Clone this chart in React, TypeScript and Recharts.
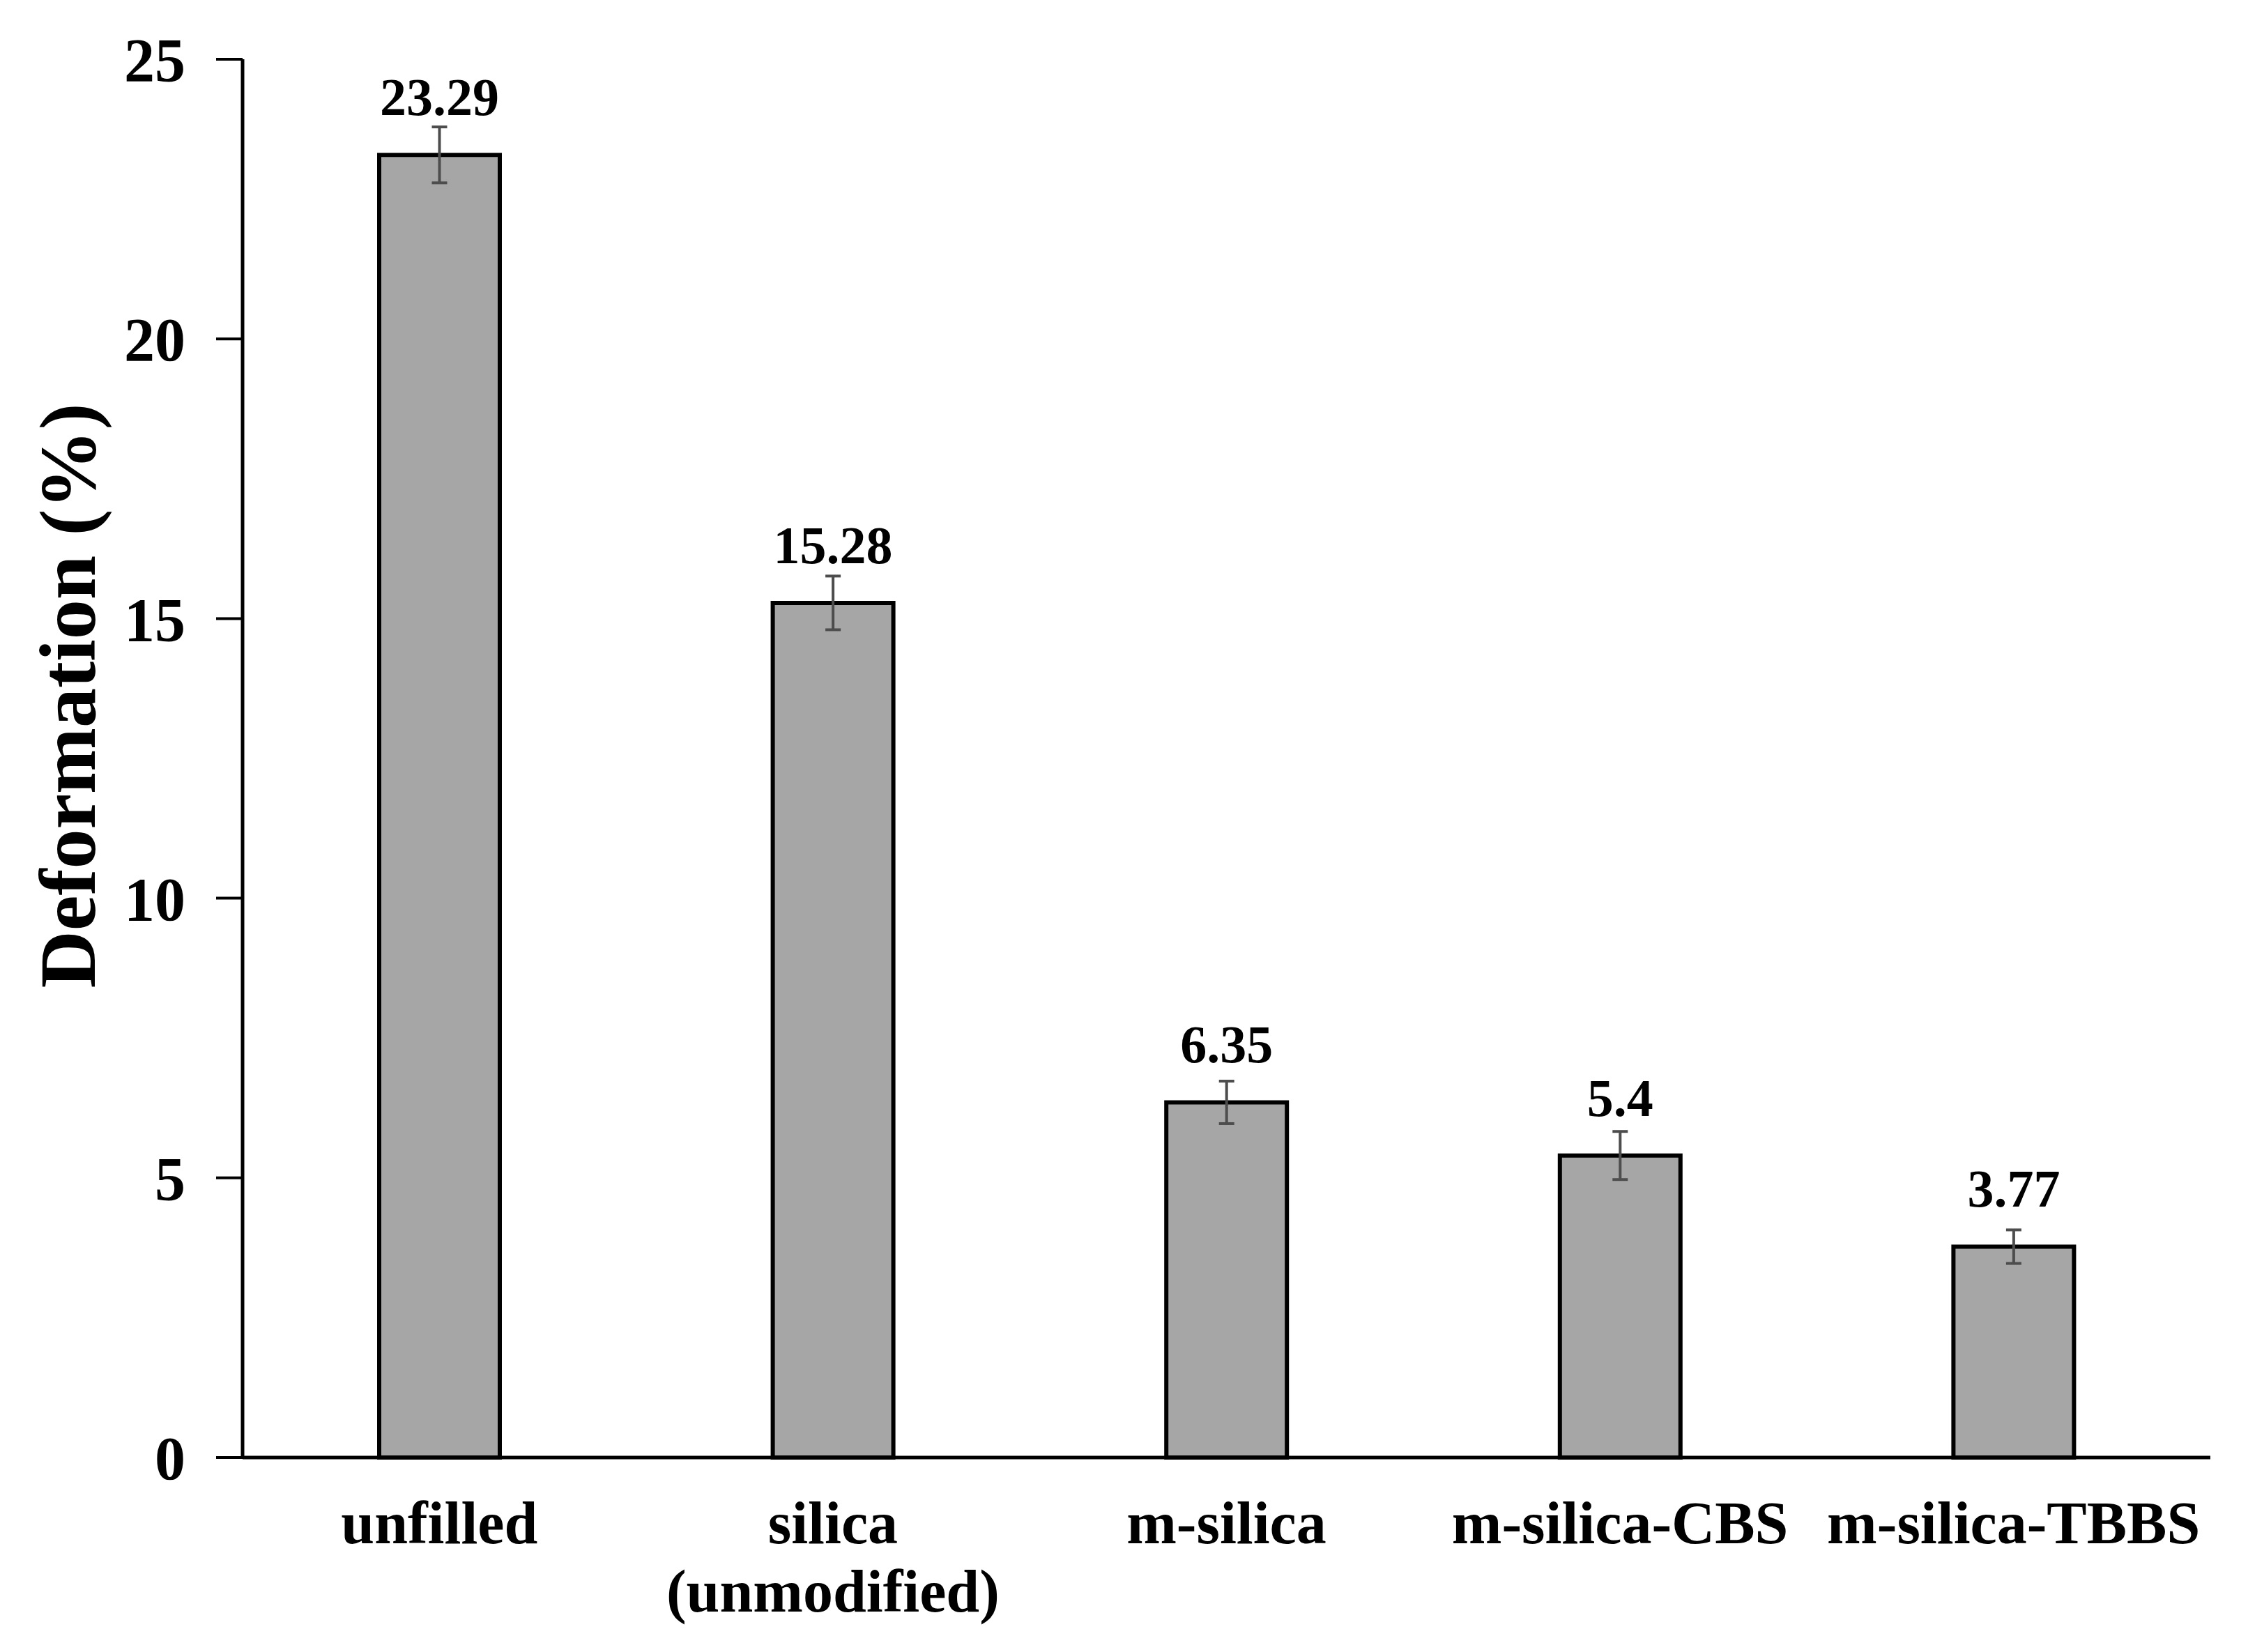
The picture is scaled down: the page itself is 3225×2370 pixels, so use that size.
import React from 'react';
import { BarChart, Bar, XAxis, YAxis, ErrorBar, LabelList, Label } from 'recharts';

const categories = ['unfilled', 'silica\n(unmodified)', 'm-silica', 'm-silica-CBS', 'm-silica-TBBS'];
const deformation = [23.29, 15.28, 6.35, 5.4, 3.77];
const deformationError = [0.5, 0.48, 0.38, 0.43, 0.3];
const yTicks = [0, 5, 10, 15, 20, 25];

const FONT = '"Liberation Serif", "Times New Roman", serif';

const chartData = categories.map((name, i) => ({
  name,
  value: deformation[i],
  err: deformationError[i],
}));

const CategoryTick = (props: any) => {
  const { x, y, payload } = props;
  const lines = String(payload.value).split('\n');
  return (
    <text x={x} y={y + 121} textAnchor="middle" fill="#000" fontFamily={FONT} fontWeight="bold" fontSize={86}>
      {lines.map((line, i) => (
        <tspan key={i} x={x} dy={i === 0 ? 0 : 98}>
          {line}
        </tspan>
      ))}
    </text>
  );
};

const ValueLabel = (props: any) => {
  const { x, y, width, value } = props;
  return (
    <text x={x + width / 2} y={y - 57} textAnchor="middle" fill="#000" fontFamily={FONT} fontWeight="bold" fontSize={76}>
      {value}
    </text>
  );
};

const App = () => {
  return (
    <BarChart width={3217} height={2362} data={chartData} margin={{ top: 77, right: 54, left: 0, bottom: 0 }}>
      <XAxis
        dataKey="name"
        height={279}
        interval={0}
        tickLine={false}
        tickSize={0}
        tick={<CategoryTick />}
        axisLine={{ stroke: '#000', strokeWidth: 5 }}
      />
      <XAxis xAxisId="top" dataKey="name" orientation="top" height={0} tick={false} tickLine={false} axisLine={{ stroke: '#000', strokeWidth: 5 }} />
      <YAxis
        width={340}
        domain={[0, 25]}
        ticks={yTicks}
        tickSize={38}
        tickMargin={44}
        tickLine={{ stroke: '#000', strokeWidth: 4 }}
        axisLine={{ stroke: '#000', strokeWidth: 5 }}
        tick={{ fill: '#000', fontFamily: FONT, fontWeight: 'bold', fontSize: 88 }}
      >
        <Label
          content={() => (
            <text
              x={89}
              y={990}
              transform="rotate(-90, 89, 990)"
              textAnchor="middle"
              dominantBaseline="central"
              fill="#000"
              fontFamily={FONT}
              fontWeight="bold"
              fontSize={114}
            >
              Deformation (%)
            </text>
          )}
        />
      </YAxis>
      <YAxis yAxisId="right" orientation="right" width={0} domain={[0, 25]} tick={false} tickLine={false} axisLine={{ stroke: '#000', strokeWidth: 5 }} />
      <Bar dataKey="value" fill="#a6a6a6" stroke="#000" strokeWidth={6} barSize={173} isAnimationActive={false}>
        <ErrorBar dataKey="err" direction="y" width={11} stroke="#4d4d4d" strokeWidth={4} isAnimationActive={false} />
        <LabelList dataKey="value" content={<ValueLabel />} />
      </Bar>
    </BarChart>
  );
};

export default App;
